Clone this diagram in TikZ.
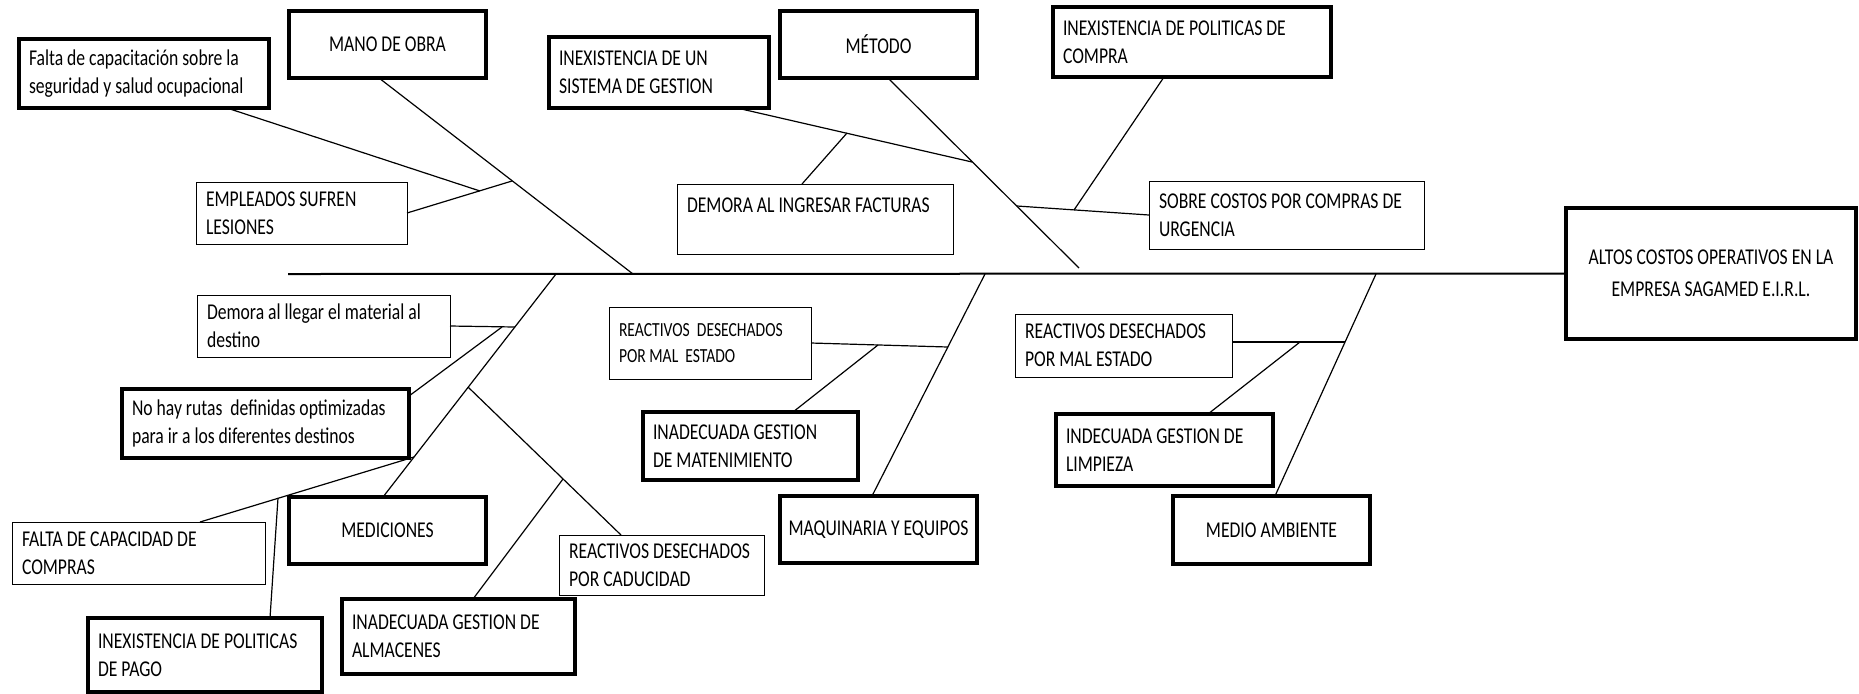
\documentclass[tikz,border=0pt]{standalone}
\usepackage{fontspec}
\setmainfont{Carlito}[FakeStretch=0.78]
\usepackage{tikz}

\begin{document}
\begin{tikzpicture}[x=0.5pt,y=-0.5pt,semithick]
  \tikzstyle{every node}=[font=\fontsize{11.3}{14}\selectfont]
  \tikzstyle{caja}=[draw,line width=0.5pt,anchor=north west,outer sep=0pt,inner xsep=5pt,inner ysep=0pt,align=flush left]
  \tikzstyle{grupo}=[caja,line width=1.6pt]
  \tikzstyle{rama}=[line width=0.6pt]
  \tikzstyle{espina}=[line width=1pt]

  \useasboundingbox (0,0) rectangle (1859,693);

  % efecto
  \node[grupo,minimum width=145pt,minimum height=65.5pt,align=flush center,font=\fontsize{11.3}{16}\selectfont] (efecto) at (1566,208) {ALTOS COSTOS OPERATIVOS EN LA\\EMPRESA SAGAMED E.I.R.L.};

  % categorias
  \node[grupo,minimum width=98.5pt,minimum height=33.5pt,align=flush center] 	(mano) 		at (289,11) 	{MANO DE OBRA};
  \node[grupo,minimum width=98.5pt,minimum height=33.5pt,align=flush center] 	(metodo) 	at (780,11) 	{MÉTODO};
  \node[grupo,minimum width=98.5pt,minimum height=33.5pt,align=flush center] 	(mediciones) 	at (289,497) 	{MEDICIONES};
  \node[grupo,minimum width=98.5pt,minimum height=33.5pt,align=flush center,inner xsep=2pt] (maquinaria) at (780,496) {MAQUINARIA Y EQUIPOS};
  \node[grupo,minimum width=98.5pt,minimum height=34pt,align=flush center] 	(medio) 	at (1173,496) 	{MEDIO AMBIENTE};

  % causas
  \node[grupo,minimum width=125pt,minimum height=34.5pt,text width=115pt] 	(falta) 	at (19,39) 	{Falta de capacitación sobre la\\seguridad y salud ocupacional};
  \node[caja,minimum width=105.5pt,minimum height=31pt,text width=95.5pt] 	(empleados) 	at (196,182) 	{EMPLEADOS SUFREN\\LESIONES};
  \node[grupo,minimum width=110pt,minimum height=35.5pt,text width=100pt] 	(inexun) 	at (549,37) 	{INEXISTENCIA DE UN\\SISTEMA DE GESTION};
  \node[caja,minimum width=138pt,minimum height=35pt,text width=128pt] 		(facturas) 	at (677,184) 	{DEMORA AL INGRESAR FACTURAS\\\mbox{}};
  \node[grupo,minimum width=139pt,minimum height=35pt,text width=129pt] 	(politicas) 	at (1053,7) 	{INEXISTENCIA DE POLITICAS DE\\COMPRA};
  \node[caja,minimum width=137.5pt,minimum height=34pt,text width=127.5pt] 	(sobre) 	at (1149,181) 	{SOBRE COSTOS POR COMPRAS DE\\URGENCIA};
  \node[caja,minimum width=126.5pt,minimum height=31pt,text width=116.5pt] 	(demora) 	at (197,295) 	{Demora al llegar el material al\\destino};
  \node[grupo,minimum width=143.5pt,minimum height=34.5pt,text width=133.5pt] 	(rutas) 	at (122,389) 	{No hay rutas~ definidas optimizadas\\para ir a los diferentes destinos};
  \node[caja,minimum width=126.5pt,minimum height=31pt,text width=116.5pt] 	(capacidad) 	at (12,522) 	{FALTA DE CAPACIDAD DE\\COMPRAS};
  \node[grupo,minimum width=117pt,minimum height=37pt,text width=107pt] 	(pago) 		at (88,618) 	{INEXISTENCIA DE POLITICAS\\DE PAGO};
  \node[grupo,minimum width=116.5pt,minimum height=37.5pt,text width=106.5pt] 	(almacenes) 	at (342,599) 	{INADECUADA GESTION DE\\ALMACENES};
  \node[caja,minimum width=102.5pt,minimum height=30pt,text width=92.5pt] 	(caducidad) 	at (559,535) 	{REACTIVOS DESECHADOS\\POR CADUCIDAD};
  \node[caja,minimum width=101pt,minimum height=36pt,text width=91pt,font=\fontsize{10}{13}\selectfont] (reactivos1) at (609,307) {REACTIVOS~ DESECHADOS\\POR MAL~ ESTADO};
  \node[grupo,minimum width=107.5pt,minimum height=34pt,text width=97.5pt] 	(matenimiento) 	at (643,412) 	{INADECUADA GESTION\\DE MATENIMIENTO};
  \node[caja,minimum width=108.5pt,minimum height=31.5pt,text width=98.5pt] 	(reactivos2) 	at (1015,314) 	{REACTIVOS DESECHADOS\\POR MAL ESTADO};
  \node[grupo,minimum width=108.5pt,minimum height=36pt,text width=98.5pt] 	(limpieza) 	at (1056,414) 	{INDECUADA GESTION DE\\LIMPIEZA};

  % puntos sobre la espina y las ramas
  \coordinate (cola) at (288,274);
  \coordinate (e1) at (633,274);
  \coordinate (e2) at (1079,268);
  \coordinate (e3) at (556,274);
  \coordinate (e4) at (985,274);
  \coordinate (e5) at (1376,274);
  \coordinate (m1) at (512,181);
  \coordinate (m2) at (480,191);
  \coordinate (t1) at (972,162);
  \coordinate (t2) at (847,133);
  \coordinate (t3) at (1017,206);
  \coordinate (t4) at (1074,210);
  \coordinate (d1) at (515,327);
  \coordinate (d2) at (502,327);
  \coordinate (d3) at (414,457);
  \coordinate (d4) at (278,498);
  \coordinate (d5) at (468,387);
  \coordinate (d6) at (563,479);
  \coordinate (q1) at (948,347);
  \coordinate (q2) at (878,345);
  \coordinate (a1) at (1345,342);
  \coordinate (a2) at (1300,342);

  \draw[espina] (cola) -- (efecto.west);

  \path[rama]	([xshift=-4.25pt]mano.south) 	edge (e1)
		(empleados.east) 		edge (m1)
		([xshift=41.5pt]falta.south) 	edge (m2)

		([xshift=4.75pt]metodo.south) 	edge (e2)
		([xshift=39pt]inexun.south) 	edge (t1)
		([xshift=-6.5pt]facturas.north) edge (t2)
		(sobre.west) 			edge (t3)
		([xshift=-14pt]politicas.south) edge (t4)

		([xshift=-2.25pt]mediciones.north) edge (e3)
		(demora.east) 			edge (d1)
		([yshift=-3.5pt]rutas.north east) edge (d2)
		([xshift=30.75pt]capacidad.north) edge (d3)
		([xshift=32.5pt]pago.north) 	edge (d4)
		([xshift=-20.25pt]caducidad.north) edge (d5)
		([xshift=7.25pt]almacenes.north) edge (d6)

		([xshift=-3.25pt]maquinaria.north) edge (e4)
		(reactivos1.east) 		edge (q1)
		([xshift=21.25pt]matenimiento.north) edge (q2)

		([xshift=1.75pt]medio.north) 	edge (e5)
		([yshift=1.75pt]reactivos2.east) edge (a1)
		([xshift=21.75pt]limpieza.north) edge (a2);
\end{tikzpicture}
\end{document}
